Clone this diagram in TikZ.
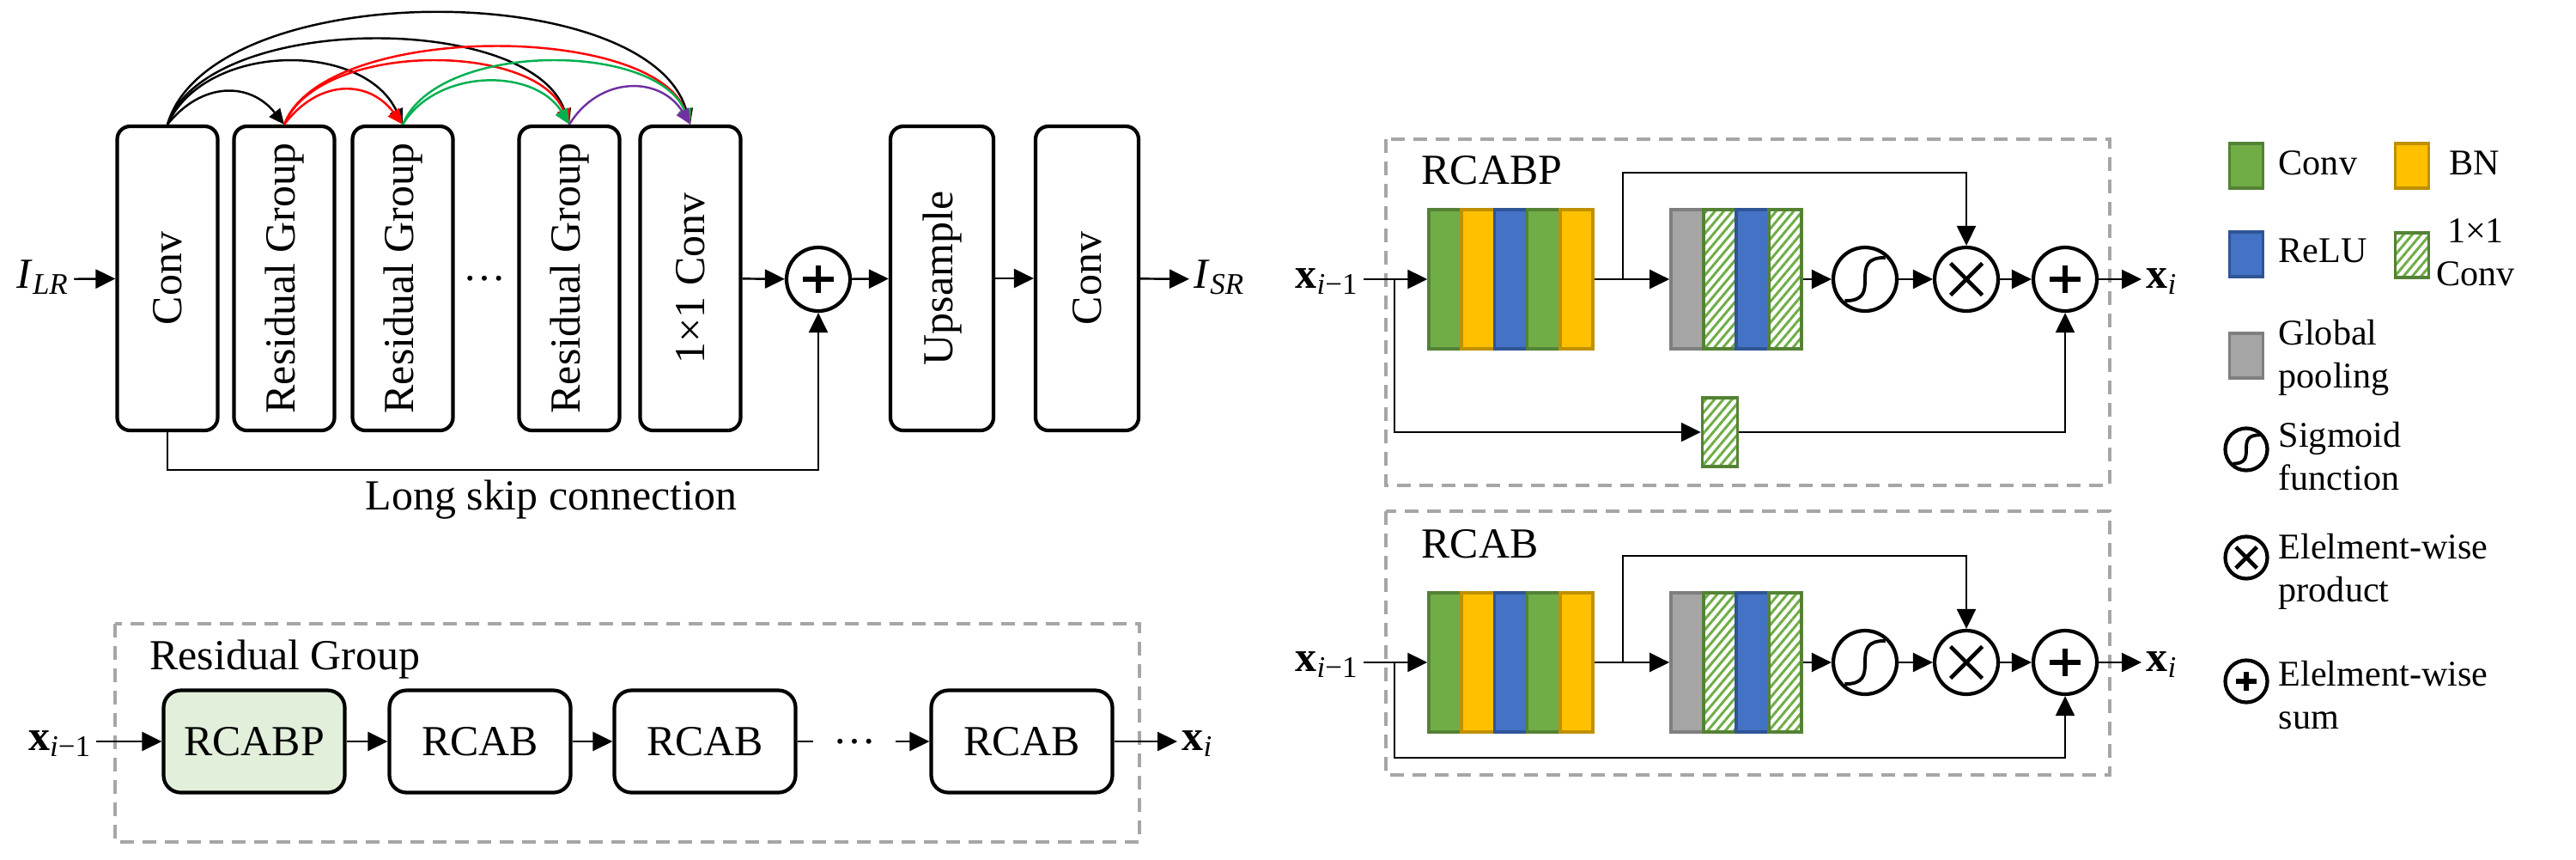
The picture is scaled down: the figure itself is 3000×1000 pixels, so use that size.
\documentclass[tikz,border=0pt]{standalone}
\usepackage{fontspec}
\setmainfont{Liberation Serif}
\usepackage{graphicx}
\usetikzlibrary{arrows.meta,patterns.meta}

\definecolor{cvf}{HTML}{70AD47}
\definecolor{cvd}{HTML}{548235}
\definecolor{bnf}{HTML}{FFC000}
\definecolor{bnd}{HTML}{BF9000}
\definecolor{rlf}{HTML}{4472C4}
\definecolor{rld}{HTML}{2F5597}
\definecolor{gpf}{HTML}{A5A5A5}
\definecolor{gpd}{HTML}{7F7F7F}
\definecolor{frm}{HTML}{A6A6A6}
\definecolor{pale}{HTML}{E2EFDA}
\definecolor{skipred}{HTML}{FF0000}
\definecolor{skipgreen}{HTML}{00B050}
\definecolor{skippurple}{HTML}{7030A0}

\newcommand{\vx}[1]{\textbf{x}\textsubscript{#1}}

\tikzset{blk/.style = {draw, line width=1.2pt, rounded corners=1.5mm, minimum width=11.7mm, minimum height=35.4mm, inner sep=0}}
\tikzset{rcab/.style = {draw, line width=1.2pt, rounded corners=2mm, minimum width=21.1mm, minimum height=11.9mm}}
\tikzset{bar/.style = {minimum width=3.82mm, minimum height=16.2mm, line width=1pt, inner sep=0}}
\tikzset{hatch/.style = {draw=cvd, pattern={Lines[angle=50,distance=0.78mm,line width=0.3mm]}, pattern color=cvf}}
\tikzset{swatch/.style = {minimum width=3.9mm, minimum height=5.2mm, line width=1pt, inner sep=0}}
\tikzset{circ/.style = {circle, draw, line width=1.2pt, inner sep=0}}
\tikzset{addop/.style = {circ, minimum size=#1, path picture={
  \draw[line width=1.6pt] ([shift={(-0.24*#1,0)}]path picture bounding box.center) -- ([shift={(0.24*#1,0)}]path picture bounding box.center)
    ([shift={(0,-0.22*#1)}]path picture bounding box.center) -- ([shift={(0,0.22*#1)}]path picture bounding box.center);}},
  addop/.default=7.4mm}
\tikzset{mulop/.style = {circ, minimum size=#1, path picture={
  \draw[line width=1.3pt] ([shift={(-0.25*#1,-0.25*#1)}]path picture bounding box.center) -- ([shift={(0.25*#1,0.25*#1)}]path picture bounding box.center)
    ([shift={(-0.25*#1,0.25*#1)}]path picture bounding box.center) -- ([shift={(0.25*#1,-0.25*#1)}]path picture bounding box.center);}},
  mulop/.default=7.4mm}
\tikzset{sigop/.style = {circ, minimum size=#1, path picture={
  \draw[line width=1.1pt] ([shift={(-0.32*#1,-0.34*#1)}]path picture bounding box.center)
    .. controls +(0.3*#1,0) and +(0,-0.2*#1) .. (path picture bounding box.center)
    .. controls +(0,0.2*#1) and +(-0.3*#1,0) .. ([shift={(0.32*#1,0.34*#1)}]path picture bounding box.center);}},
  sigop/.default=7.4mm}
\tikzset{arr/.style = {-{Triangle[length=2.3mm,width=2.2mm]}, line width=0.7pt}}
\tikzset{bow/.style = {-{Triangle[length=1.8mm,width=1.6mm]}, line width=0.7pt}}
\tikzset{frame/.style = {draw=frm, line width=1pt, dash pattern=on 1.6mm off 1mm}}
\tikzset{lbl/.style = {text height=3mm, text depth=1mm, inner sep=0.5mm}}
\tikzset{lgd/.style = {anchor=west, align=left, inner sep=0.5mm, font=\fontsize{12}{14.2}\selectfont}}

\begin{document}
\begin{tikzpicture}[x=0.1mm, y=-0.1mm, font=\fontsize{14.2}{17}\selectfont]
  \useasboundingbox (0,0) rectangle (3000,1000);

  \node[lbl] (ilr) at (50,325) {\textit{I}\textsubscript{\textit{LR}}};
  \node[blk] (conv1) at (195,324) {\rotatebox{90}{Conv}};
  \node[blk] (rg1) at (331,324) {\rotatebox{90}{Residual Group}};
  \node[blk] (rg2) at (469,324) {\rotatebox{90}{Residual Group}};
  \node (dots1) at (564,324) {\dots};
  \node[blk] (rg3) at (663,324) {\rotatebox{90}{Residual Group}};
  \node[blk] (c11) at (804,324) {\rotatebox{90}{1×1 Conv}};
  \node[addop] (sum) at (953,325) {};
  \node[blk, minimum width=12mm] (ups) at (1097,324) {\rotatebox{90}{Upsample}};
  \node[blk, minimum width=12mm] (conv2) at (1266,324) {\rotatebox{90}{Conv}};
  \node[lbl, anchor=west] (isr) at (1385,325) {\textit{I}\textsubscript{\textit{SR}}};
  \coordinate (sk) at (195,547);
  \node (skl) at (642,582) {Long skip connection};

  \draw[arr] (ilr) -- (conv1);
  \draw[arr] (c11) -- (sum);
  \draw[arr] (sum) -- (ups);
  \draw[arr] (ups) -- (conv2);
  \draw[arr] (conv2) -- (isr);
  \draw[arr] (conv1.south) -- (sk) -| (sum.south);

  \draw[bow] (conv1.north) .. controls +(40,-50) and +(-40,-50) .. (rg1.north);
  \draw[bow] (conv1.north) .. controls +(45,-97) and +(-45,-97) .. (rg2.north);
  \draw[bow] (conv1.north) .. controls +(45,-131) and +(-45,-131) .. (rg3.north);
  \draw[bow] (conv1.north) .. controls +(50,-172) and +(-50,-172) .. (c11.north);
  \draw[bow, skipred] (rg1.north) .. controls +(40,-53) and +(-40,-53) .. (rg2.north);
  \draw[bow, skipred] (rg1.north) .. controls +(40,-97) and +(-40,-97) .. (rg3.north);
  \draw[bow, skipred] (rg1.north) .. controls +(45,-119) and +(-45,-119) .. (c11.north);
  \draw[bow, skipgreen] (rg2.north) .. controls +(40,-66) and +(-40,-66) .. (rg3.north);
  \draw[bow, skipgreen] (rg2.north) .. controls +(40,-97) and +(-40,-97) .. (c11.north);
  \draw[bow, skippurple] (rg3.north) .. controls +(35,-57) and +(-35,-57) .. (c11.north);

  \draw[frame] (134,726) rectangle (1327,980);
  \node[anchor=west] (rgl) at (162,767) {Residual Group};
  \node[lbl] (xg0) at (70,863) {\vx{\textit{i}−1}};
  \node[rcab, fill=pale] (rcabp) at (296,863) {RCABP};
  \node[rcab] (rb1) at (559,863) {RCAB};
  \node[rcab] (rb2) at (821,863) {RCAB};
  \node (dots2) at (995,863) {\dots};
  \node[rcab] (rb3) at (1190,863) {RCAB};
  \node[lbl, anchor=west] (xg1) at (1371,863) {\vx{\textit{i}}};
  \coordinate (d1) at (947,863);
  \coordinate (d2) at (1043,863);

  \draw[arr] (xg0) -- (rcabp);
  \draw[arr] (rcabp) -- (rb1);
  \draw[arr] (rb1) -- (rb2);
  \draw[line width=0.7pt] (rb2) -- (d1);
  \draw[arr] (d2) -- (rb3);
  \draw[arr] (rb3) -- (xg1);

  \draw[frame] (1614,162) rectangle (2457,565);
  \node[anchor=west] (t1) at (1643,198) {RCABP};
  \draw[frame] (1614,595) rectangle (2457,902);
  \node[anchor=west] (t2) at (1643,633) {RCAB};

  \foreach \n/\y in {1/325, 2/771} {
    \node[lbl, anchor=east] (xi\n) at (1588,\y) {\vx{\textit{i}−1}};
    \foreach \f/\d [count=\k] in {cvf/cvd, bnf/bnd, rlf/rld, cvf/cvd, bnf/bnd}
      \node[bar, fill=\f, draw=\d] (a\n-\k) at ({1644.9+38.2*\k},\y) {};
    \node[bar, fill=gpf, draw=gpd] (b\n-1) at (1965,\y) {};
    \node[bar, hatch] (b\n-2) at (2003,\y) {};
    \node[bar, fill=rlf, draw=rld] (b\n-3) at (2041,\y) {};
    \node[bar, hatch] (b\n-4) at (2079,\y) {};
    \node[sigop] (sg\n) at (2172,\y) {};
    \node[mulop] (ml\n) at (2290,\y) {};
    \node[addop] (pl\n) at (2405,\y) {};
    \node[lbl, anchor=west] (xo\n) at (2494,\y) {\vx{\textit{i}}};
    \coordinate (sp\n) at (1624,\y);
    \coordinate (br\n) at (1890,\y);
    \coordinate (tp\n) at (1890,\y-124);

    \draw[arr] (xi\n) -- (a\n-1);
    \draw[arr] (a\n-5) -- (b\n-1);
    \draw[arr] (br\n) -- (tp\n) -| (ml\n);
    \draw[arr] (b\n-4) -- (sg\n);
    \draw[arr] (sg\n) -- (ml\n);
    \draw[arr] (ml\n) -- (pl\n);
    \draw[arr] (pl\n) -- (xo\n);
  }

  \node[hatch, line width=1pt, minimum width=4.1mm, minimum height=8mm, inner sep=0] (hx) at (2003,503) {};
  \coordinate (lo1) at (1624,503);
  \coordinate (lo2) at (1624,882);
  \draw[arr] (sp1) -- (lo1) -- (hx);
  \draw[arr] (hx) -| (pl1);
  \draw[arr] (sp2) -- (lo2) -| (pl2);

  \node[swatch, fill=cvf, draw=cvd] (kc) at (2616,193) {};
  \node[lgd] (kct) at (2648,190) {Conv};
  \node[swatch, fill=bnf, draw=bnd] (kb) at (2809,193) {};
  \node[lgd] (kbt) at (2847,190) {BN};
  \node[swatch, fill=rlf, draw=rld] (kr) at (2616,296) {};
  \node[lgd] (krt) at (2648,292) {ReLU};
  \node[swatch, hatch] (kh) at (2809,297) {};
  \node[lgd, anchor=center, align=center] (kht) at (2883,294) {1×1\\Conv};
  \node[swatch, fill=gpf, draw=gpd] (kg) at (2616,414) {};
  \node[lgd] (kgt) at (2648,416) {Global\\pooling};
  \node[sigop=4.9mm] (ks) at (2616,523) {};
  \node[lgd] (kst) at (2648,531) {Sigmoid\\function};
  \node[mulop=4.9mm] (km) at (2616,649) {};
  \node[lgd] (kmt) at (2648,665) {Elelment-wise\\product};
  \node[addop=4.9mm] (ka) at (2616,793) {};
  \node[lgd] (kat) at (2648,809) {Elelment-wise\\sum};
\end{tikzpicture}
\end{document}
